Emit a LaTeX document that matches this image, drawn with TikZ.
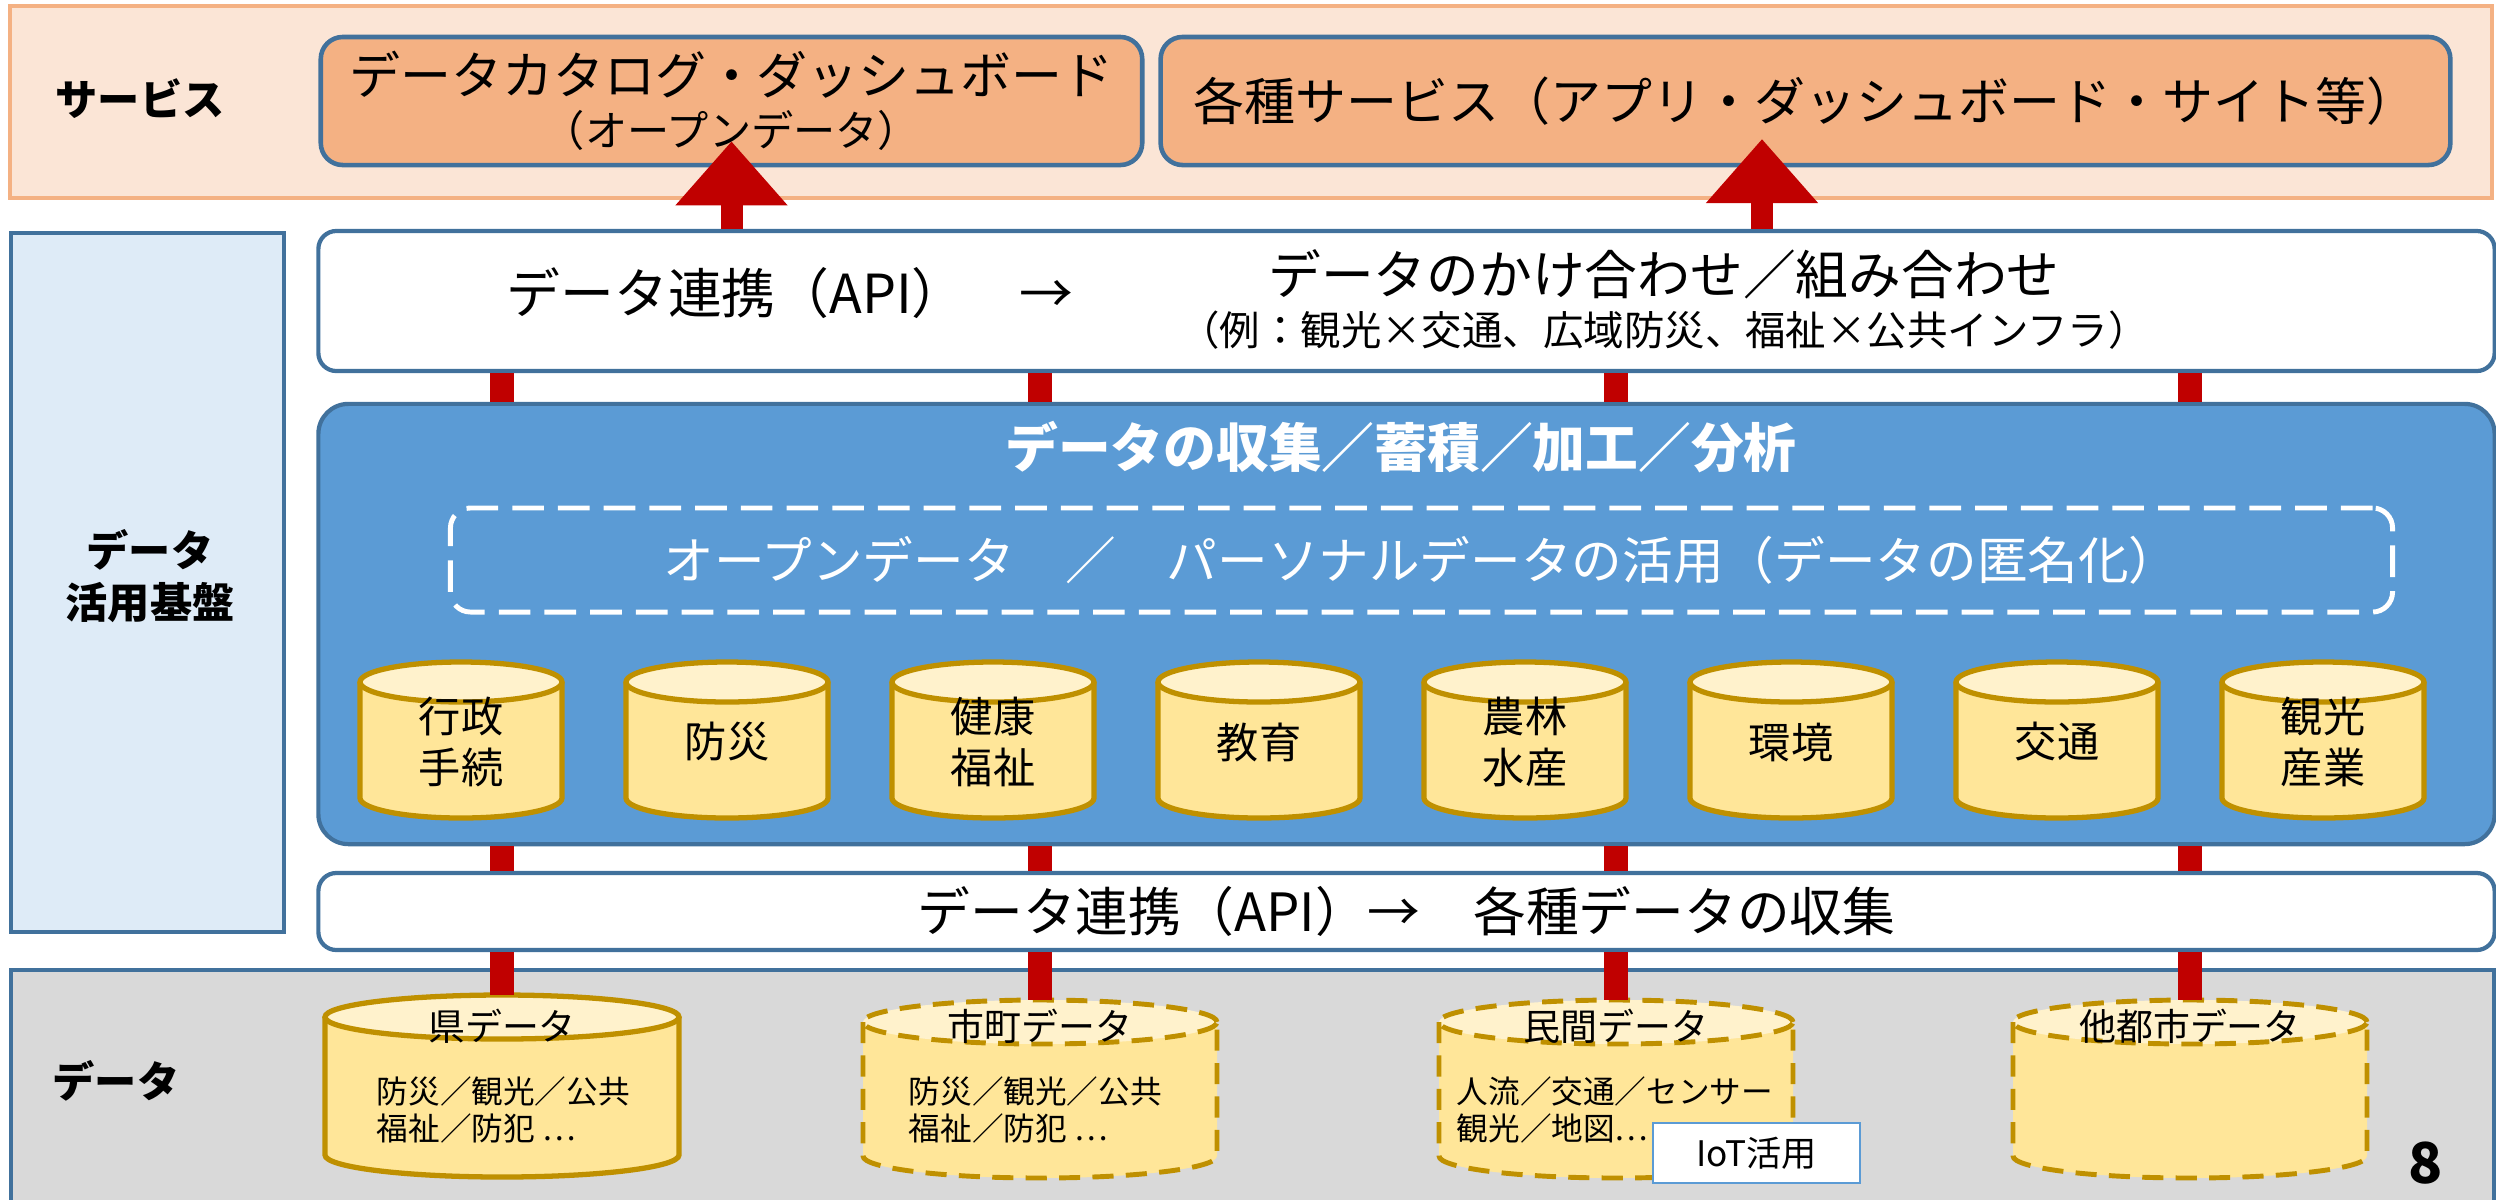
\documentclass[tikz,border=0pt]{standalone}
\usepackage{fontspec}
\setmainfont{Noto Sans CJK JP}
\usetikzlibrary{arrows.meta}

\definecolor{svcband}{HTML}{FBE5D6}
\definecolor{svcedge}{HTML}{F4B183}
\definecolor{bluedge}{HTML}{41719C}
\definecolor{basefill}{HTML}{DEEBF7}
\definecolor{mainblue}{HTML}{5B9BD5}
\definecolor{linkred}{HTML}{C00000}
\definecolor{dbedge}{HTML}{BF9000}
\definecolor{dbbody}{HTML}{FFE699}
\definecolor{dbtop}{HTML}{FFF2CC}
\definecolor{databand}{HTML}{D9D9D9}

\newcommand{\fs}[1]{\fontsize{#1}{#1}\selectfont}

% tank: name, x, y of top ellipse, rx, ry, height, line style
\newcommand{\tank}[7]{%
  \fill[dbbody] (#2-#4,#3) -- (#2-#4,#3-#6) arc[start angle=180,end angle=360,x radius=#4,y radius=#5] -- (#2+#4,#3) -- cycle;
  \draw[dbedge,#7,fill=dbtop] (#2,#3) ellipse[x radius=#4,y radius=#5];
  \draw[dbedge,#7] (#2-#4,#3) -- (#2-#4,#3-#6) arc[start angle=180,end angle=360,x radius=#4,y radius=#5] -- (#2+#4,#3);
  \coordinate (#1-top) at (#2,#3+#5);
}

\tikzset{
  head/.style={font=\bfseries\fontsize{12}{14.8}\selectfont, align=center, inner sep=0},
  svcbox/.style={draw=bluedge, line width=1.3pt, fill=svcedge, rounded corners=0.22cm, inner sep=0, align=center},
  whitebox/.style={draw=bluedge, line width=1.2pt, fill=white, rounded corners=0.18cm, inner sep=0},
  mainbox/.style={draw=bluedge, line width=1.2pt, fill=mainblue, rounded corners=0.3cm, inner sep=0},
  dashbox/.style={draw=white, line width=1.4pt, dash pattern=on 9pt off 4pt, rounded corners=0.2cm, inner sep=0, text=white},
  link/.style={draw=linkred, line width=0.24cm},
  bigarrow/.style={draw=linkred, line width=0.22cm, -{Triangle[length=0.64cm,width=1.08cm]}},
  dblabel/.style={font=\fontsize{12}{14.5}\selectfont, align=center, inner sep=0},
  dbtext/.style={font=\fontsize{9}{10.3}\selectfont, align=left, anchor=west, inner sep=0},
  dbdash/.style={line width=1.4pt, dash pattern=on 6pt off 3.5pt},
}

\begin{document}
\begin{tikzpicture}[x=0.01cm, y=0.01cm]
\useasboundingbox (0,0) rectangle (2496,-1199);

% bands
\draw[svcedge, line width=1.2pt, fill=svcband] (10,-6) rectangle (2492,-198);
\draw[bluedge, line width=1.2pt, fill=basefill] (11,-233) rectangle (284,-932);
\draw[bluedge, line width=1.2pt, fill=databand] (11,-970) rectangle (2494,-1215);

\node[head] (svc-lbl) at (140,-99) {サービス};
\node[head] (base-lbl) at (150,-576) {データ\\活用基盤};
\node[head] (data-lbl) at (116,-1081) {データ};

% services
\node[svcbox, minimum width=8.21cm, minimum height=1.28cm] (catalog) at (731.5,-101)
  {{\fontsize{14.5}{16}\selectfont データカタログ・ダッシュボード}\\[0.1cm]{\fontsize{12}{13}\selectfont （オープンデータ）}};
\node[svcbox, minimum width=12.89cm, minimum height=1.28cm, font=\fs{14.5}] (apps) at (1805.5,-101)
  {各種サービス（アプリ・ダッシュボード・サイト等）};

% platform
\node[whitebox, minimum width=21.75cm, minimum height=1.40cm] (api1) at (1406.5,-301) {};
\node[font=\fs{15.3}, inner sep=0] (api1-l) at (790,-293) {データ連携（API）　→};
\node[font=\fs{15}, inner sep=0] (api1-r) at (1664,-274) {データのかけ合わせ／組み合わせ};
\node[font=\fs{11.5}, inner sep=0] (api1-ex) at (1664,-330) {（例：観光×交通、広域防災、福祉×公共インフラ）};

\node[mainbox, minimum width=21.75cm, minimum height=4.40cm] (main) at (1406.5,-624) {};
\node[text=white, font=\bfseries\fs{15}, inner sep=0] (main-ttl) at (1401,-447) {データの収集／蓄積／加工／分析};
\node[dashbox, minimum width=19.41cm, minimum height=1.04cm, font=\fs{14.4}] (anon) at (1421.5,-560)
  {オープンデータ　／　パーソナルデータの活用（データの匿名化）};

\foreach \n/\t [count=\i from 0] in {gyosei/{行政\\手続}, bousai/防災, kenko/{健康\\福祉}, kyoiku/教育,
    norin/{農林\\水産}, kankyo/環境, kotsu/交通, kanko/{観光\\産業}} {
  \tank{\n}{461+266*\i}{-682}{101}{20}{116}{line width=1.5pt}
  \node[dblabel] (\n) at (461+266*\i,-742) {\t};
}

\node[whitebox, minimum width=21.75cm, minimum height=0.77cm, font=\fs{15}] (api2) at (1406.5,-911.5)
  {データ連携（API）→　各種データの収集};

% data sources
\tank{ken}{502}{-1017}{177}{22}{138}{line width=1.5pt}
\tank{shicho}{1040}{-1022}{177}{22}{134}{dbdash}
\tank{minkan}{1616}{-1022}{177}{22}{134}{dbdash}
\tank{tatoshi}{2190}{-1022}{177}{22}{134}{dbdash}

\node[font=\fs{10.5}, inner sep=0] (ken) at (502,-1026) {県データ};
\node[font=\fs{10.5}, inner sep=0] (shicho) at (1040,-1026) {市町データ};
\node[font=\fs{10.5}, inner sep=0] (minkan) at (1616,-1026) {民間データ};
\node[font=\fs{10.5}, inner sep=0] (tatoshi) at (2190,-1026) {他都市データ};

\node[dbtext] (ken-txt) at (376,-1110) {防災／観光／公共\\福祉／防犯 …};
\node[dbtext] (shicho-txt) at (908,-1110) {防災／観光／公共\\福祉／防犯 …};
\node[dbtext] (minkan-txt) at (1456,-1110) {人流／交通／センサー\\観光／地図…};

\node[draw=mainblue, line width=0.6pt, fill=white, minimum width=2.07cm, minimum height=0.60cm,
  inner sep=0, font=\fs{10}] (iot) at (1756.5,-1153) {IoT活用};

\node[font=\bfseries\fs{16}, inner sep=0] (pgno) at (2426,-1163) {8};

% links
\foreach \n in {ken,shicho,minkan,tatoshi} {
  \draw[link] (api1.south -| \n-top) -- (main.north -| \n-top);
  \draw[link] (main.south -| \n-top) -- (api2.north -| \n-top);
  \draw[link] (api2.south -| \n-top) -- (\n-top);
}

\coordinate (apps-in) at (1762,-139);
\draw[bigarrow] (api1.north -| catalog) -- ([yshift=0.26cm]catalog.south);
\draw[bigarrow] (api1.north -| apps-in) -- (apps-in);
\end{tikzpicture}
\end{document}
